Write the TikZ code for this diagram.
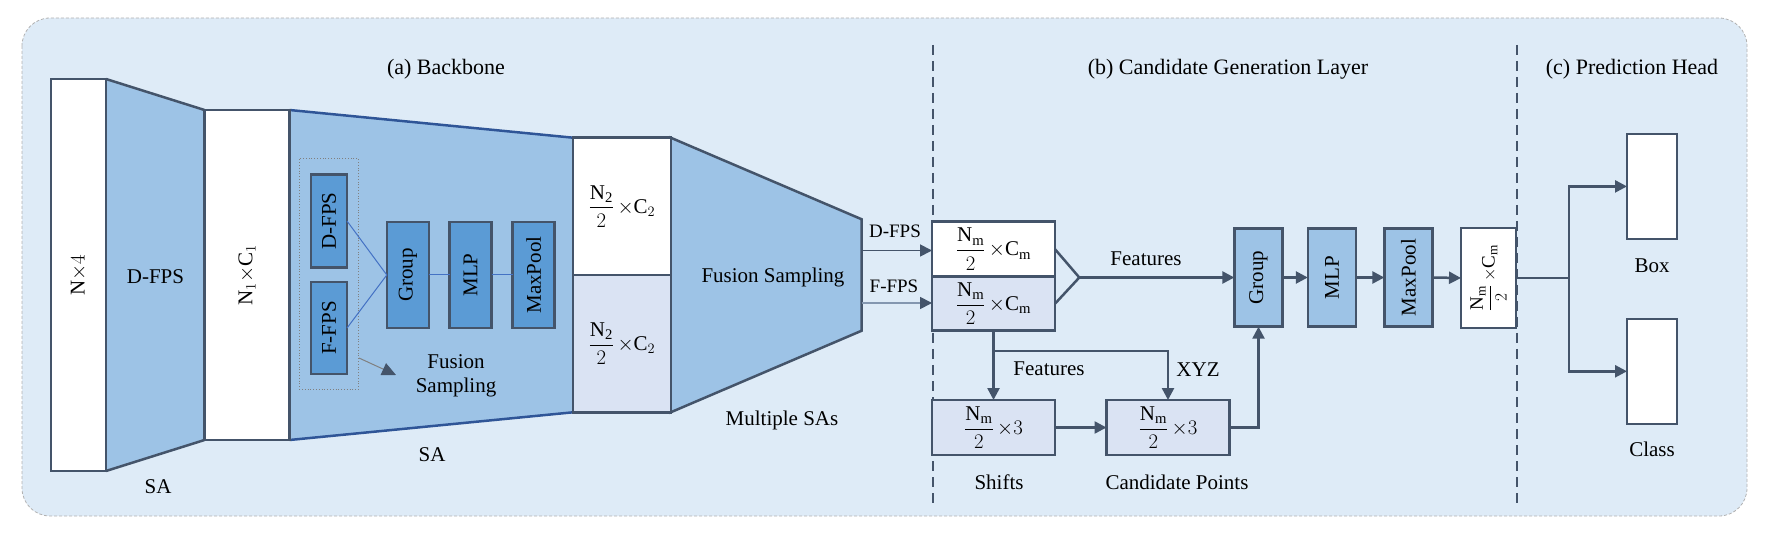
\documentclass[tikz,border=0pt]{standalone}
\usepackage{amsmath}
\usepackage{fontspec}
\setmainfont{Liberation Serif}
\usetikzlibrary{arrows.meta,calc}
\definecolor{bgblue}{HTML}{DEEBF7}
\definecolor{midblue}{HTML}{9DC3E6}
\definecolor{deepblue}{HTML}{5B9BD5}
\definecolor{lav}{HTML}{DAE3F3}
\definecolor{slate}{HTML}{44546A}
\definecolor{saline}{HTML}{2F5597}
\definecolor{thinblue}{HTML}{4472C4}
\definecolor{ffline}{HTML}{8497B0}
\newcommand{\fr}[2]{$\dfrac{\mathrm{N}_{\mathrm{#1}}}{2}\,{\times}#2$}
\begin{document}
\begin{tikzpicture}[x=1pt,y=-1pt,
  every node/.style={font=\rmfamily\fontsize{21}{24}\selectfont, inner sep=0pt, outer sep=0pt},
  wbox/.style={draw=slate,line width=2.5pt,fill=white},
  lbox/.style={draw=slate,line width=2.5pt,fill=lav},
  mbox/.style={draw=slate,line width=2.5pt,fill=midblue},
  dbox/.style={draw=slate,line width=2.5pt,fill=deepblue},
  plain/.style={draw=slate,line width=2.5pt},
  conn/.style={draw=slate,line width=2.5pt,-{Triangle[length=12pt,width=12pt]}},
  thinconn/.style={line width=1.8pt,-{Triangle[length=12pt,width=12pt,color=slate]}},
  head/.style={font=\rmfamily\fontsize{22}{26}\selectfont},
  small/.style={font=\rmfamily\fontsize{19}{22}\selectfont},
  divider/.style={draw=slate,line width=2pt,dash pattern=on 10pt off 6pt}]
\useasboundingbox (0,0) rectangle (1769,534);
% background
\draw[fill=bgblue, draw=gray!60, densely dashed, line width=0.8pt, rounded corners=28pt] (22,18) rectangle (1747,516);

% headings
\node[head] (ha) at (446,69) {(a) Backbone};
\node[head] (hb) at (1228,69) {(b) Candidate Generation Layer};
\node[head] (hc) at (1632,69) {(c) Prediction Head};

% dividers
\draw[divider] (933,45) -- (933,505);
\draw[divider] (1516.5,45) -- (1516.5,505);

% trapezoids
\fill[midblue] (106,79) -- (204.5,110) -- (204.5,440) -- (106,471) -- cycle;
\draw[plain] (106,79) -- (204.5,110) (106,471) -- (204.5,440);
\fill[midblue] (289.5,110) -- (573,137.7) -- (573,412.3) -- (289.5,440) -- cycle;
\draw[saline, line width=2.5pt] (289.5,110) -- (573,137.7) (289.5,440) -- (573,412.3);
\draw[plain, fill=midblue] (670.7,137.7) -- (861.7,219.3) -- (861.7,330.7) -- (670.7,412.3) -- cycle;

% backbone
\node[wbox, minimum width=55pt, minimum height=392pt] (nx4) at (78.5,275) {\rotatebox{90}{$\mathrm{N}{\times}4$}};
\node (dfpsl) at (155.5,277) {D-FPS};
\node (sa1) at (158,487) {SA};
\node[wbox, minimum width=85pt, minimum height=330pt] (n1c1) at (247,275) {\rotatebox{90}{$\mathrm{N}_1{\times}\mathrm{C}_1$}};

\node[draw=gray, dotted, line width=0.8pt, minimum width=59pt, minimum height=231pt] (fsbox) at (328.7,274) {};
\node[dbox, minimum width=36pt, minimum height=93pt] (sdfps) at (329,221) {\rotatebox{90}{D-FPS}};
\node[dbox, minimum width=36pt, minimum height=92pt] (sffps) at (329,328) {\rotatebox{90}{F-FPS}};
\node[dbox, minimum width=42pt, minimum height=106pt] (sgroup) at (407.8,275) {\rotatebox{90}{Group}};
\node[dbox, minimum width=42pt, minimum height=106pt] (smlp) at (470.5,275) {\rotatebox{90}{MLP}};
\node[dbox, minimum width=42pt, minimum height=106pt] (smax) at (533.7,275) {\rotatebox{90}{MaxPool}};
\draw[thinblue, line width=1pt] (sdfps.east) -- (sgroup.west) -- (sffps.east);
\draw[thinblue, line width=1pt] (sgroup.east) -- (smlp.west) (smlp.east) -- (smax.west);
\coordinate (fa0) at (359,358);
\coordinate (fa1) at (396,375);
\draw[gray, line width=1pt, -{Triangle[length=14pt,width=13pt,color=slate]}] (fa0) -- (fa1);
\node[align=center] (fsl) at (456,376) {Fusion\\Sampling};
\node (sa2) at (432,455) {SA};

\node[wbox, minimum width=98pt, minimum height=137.3pt] (n2a) at (622,206.3) {\fr{2}{\mathrm{C}_2}};
\node[lbox, minimum width=98pt, minimum height=137.3pt] (n2b) at (622,343.7) {\fr{2}{\mathrm{C}_2}};
\node (fusl) at (773,277) {Fusion Sampling};
\node (msa) at (782,420) {Multiple SAs};

% candidate generation
\coordinate (fd) at (861.7,250.5);
\coordinate (ff) at (861.7,303);
\node[wbox, minimum width=123pt, minimum height=55pt] (cm1) at (993.5,249.2) {\fr{m}{\mathrm{C}_{\mathrm{m}}}};
\node[lbox, minimum width=123pt, minimum height=54pt] (cm2) at (993.5,303.7) {\fr{m}{\mathrm{C}_{\mathrm{m}}}};
\draw[thinconn, slate] (fd) -- (fd -| cm1.west);
\draw[thinconn, ffline] (ff) -- (ff -| cm2.west);
\node[small] (dl) at (895,231) {D-FPS};
\node[small] (fl) at (894,286) {F-FPS};

\node[mbox, minimum width=48.4pt, minimum height=98.4pt] (group) at (1258.5,277.5) {\rotatebox{90}{Group}};
\node[mbox, minimum width=48.4pt, minimum height=98.4pt] (mlp) at (1332,277.5) {\rotatebox{90}{MLP}};
\node[mbox, minimum width=48.4pt, minimum height=98.4pt] (maxpool) at (1408.5,277.5) {\rotatebox{90}{MaxPool}};
\node[wbox, minimum width=55pt, minimum height=100pt] (out) at (1488.5,278) {\rotatebox{90}{\fontsize{19}{22}\selectfont\fr{m}{\mathrm{C}_{\mathrm{m}}}}};

\coordinate (mg) at (1079.3,277.5);
\draw[plain, line join=miter] (cm1.east) -- (mg) -- (cm2.east);
\draw[conn] (mg) -- (group.west);
\node (feat1) at (1146,259) {Features};

\node[lbox, minimum width=123pt, minimum height=55pt] (shifts) at (993.5,427.5) {\fr{m}{3}};
\node[lbox, minimum width=123pt, minimum height=55pt] (cand) at (1168,427.5) {\fr{m}{3}};
\coordinate (br) at (993.5,351);
\draw[conn] (cm2.south) -- (shifts.north);
\draw[conn] (br) -| (cand.north);
\draw[conn] (shifts.east) -- (cand.west);
\draw[conn] (cand.east) -| (group.south);
\node (feat2) at (1049,369) {Features};
\node (xyz) at (1198,370) {XYZ};
\node (shl) at (999,482) {Shifts};
\node (cpl) at (1177,482) {Candidate Points};

\draw[conn] (group.east) -- (mlp.west);
\draw[conn] (mlp.east) -- (maxpool.west);
\draw[conn] (maxpool.east) -- (out.west);

% prediction head
\node[wbox, minimum width=50pt, minimum height=105pt] (boxr) at (1652,186.4) {};
\node[wbox, minimum width=50pt, minimum height=105pt] (classr) at (1652,371.3) {};
\coordinate (ob) at (1569,278);
\draw[plain] (out.east) -- (ob);
\draw[conn] (ob) |- (boxr.west);
\draw[conn] (ob) |- (classr.west);
\node (boxl) at (1652,266) {Box};
\node (classl) at (1652,449) {Class};
\end{tikzpicture}
\end{document}
